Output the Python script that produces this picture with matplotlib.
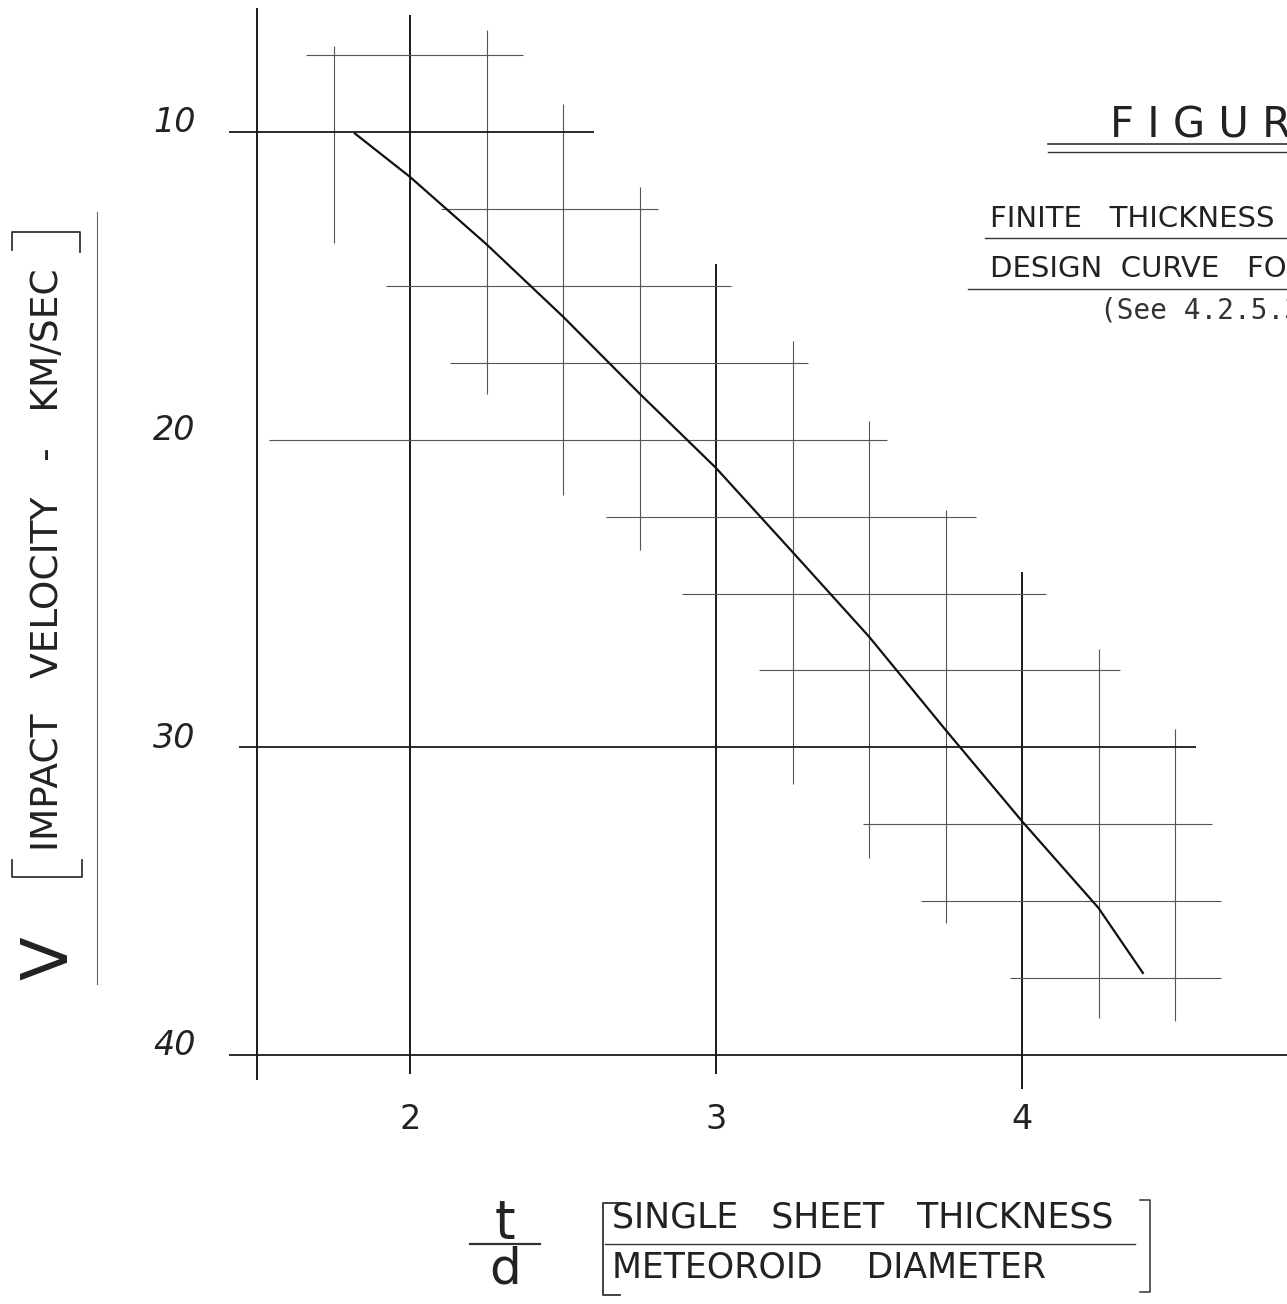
import matplotlib.pyplot as plt
from matplotlib.lines import Line2D

# Data
x_ticks = [2, 3, 4]
v_ticks = [10, 20, 30, 40]

# design curve: t/d vs impact velocity (km/sec)
curve_td = [1.82, 2.0, 2.25, 2.5, 2.75, 3.0, 3.25, 3.5, 3.75, 4.0, 4.25, 4.395]
curve_v = [10.05, 11.46, 13.65, 16.0, 18.5, 20.92, 23.65, 26.4, 29.43, 32.4, 35.22, 37.33]

# vertical grid strokes (t/d value, top velocity, bottom velocity)
grid_td = [1.5, 1.75, 2.0, 2.25, 2.5, 2.75, 3.0, 3.25, 3.5, 3.75, 4.0, 4.25, 4.5]
grid_td_top = [5.97, 7.2, 6.2, 6.7, 9.1, 11.8, 14.3, 16.8, 19.4, 22.3, 24.3, 26.8, 29.4]
grid_td_bot = [40.8, 13.6, 40.6, 18.5, 21.8, 23.6, 40.6, 31.2, 33.6, 35.7, 41.1, 38.8, 38.9]

# horizontal grid strokes (velocity, left t/d, right t/d)
grid_v = [7.5, 10, 12.5, 15, 17.5, 20, 22.5, 25, 27.5, 30, 32.5, 35, 37.5, 40]
grid_v_left = [1.66, 1.41, 2.1, 1.92, 2.13, 1.54, 2.64, 2.89, 3.14, 1.44, 3.48, 3.67, 3.96, 1.41]
grid_v_right = [2.37, 2.60, 2.81, 3.05, 3.30, 3.56, 3.85, 4.08, 4.32, 4.57, 4.62, 4.65, 4.65, 4.87]

major_td = [1.5, 2.0, 3.0, 4.0]
major_v = [10, 30, 40]

W, H = 1287, 1304
fig = plt.figure(figsize=(W / 100, H / 100), dpi=100)
ax = fig.add_axes([0, 0, 1, 1])
ax.set_xlim(0.660, 4.866)
ax.set_ylim(48.09, 5.71)
ax.axis('off')

ink = '#1a1a1a'
faint = '#555555'

for x, top, bot in zip(grid_td, grid_td_top, grid_td_bot):
    if x in major_td:
        ax.plot([x, x], [top, bot], color=ink, lw=1.4, solid_capstyle='butt')
    else:
        ax.plot([x, x], [top, bot], color=faint, lw=0.8, solid_capstyle='butt')

for v, left, right in zip(grid_v, grid_v_left, grid_v_right):
    if v in major_v:
        ax.plot([left, right], [v, v], color=ink, lw=1.3, solid_capstyle='butt')
    else:
        ax.plot([left, right], [v, v], color=faint, lw=0.8, solid_capstyle='butt')

ax.plot(curve_td, curve_v, color='#111111', lw=1.6)

hand = dict(family='DejaVu Sans', color='#222222')

# tick labels
for v in v_ticks:
    ax.text(1.23, v - 0.3, str(v), ha='center', va='center', fontsize=24,
            style='italic', **hand)
for x in x_ticks:
    ax.text(x, 42.1, str(x), ha='center', va='center', fontsize=24, **hand)


def px(x, y):
    return x / W, 1 - y / H


def fline(xs, ys, lw=1.0, color='#333333'):
    fig.add_artist(Line2D([x / W for x in xs], [1 - y / H for y in ys],
                          transform=fig.transFigure, color=color, lw=lw))


# title block (cut by right edge as in the original)
fig.text(*px(1110, 126), 'F I G U R E', fontsize=30, ha='left', va='center', **hand)
fline([1048, 1300], [144, 144], lw=1.2)
fline([1048, 1300], [152, 152], lw=1.0)
fig.text(*px(990, 219), 'FINITE   THICKNESS', fontsize=21, ha='left', va='center', **hand)
fline([985, 1300], [238, 238], lw=1.0)
fig.text(*px(990, 269), 'DESIGN  CURVE   FOR', fontsize=21, ha='left', va='center', **hand)
fline([968, 1300], [289, 289], lw=1.0)
fig.text(*px(1100, 311), '(See 4.2.5.3)', fontsize=20, ha='left', va='center',
         family='DejaVu Sans Mono', color='#333333')

# y label
fig.text(*px(50, 958), 'V', fontsize=46, rotation=90, ha='center', va='center', **hand)
fig.text(*px(48, 560), 'IMPACT   VELOCITY   -   KM/SEC', fontsize=27, rotation=90,
         ha='center', va='center', **hand)
fline([12, 12, 80, 80], [250, 232, 232, 252], lw=1.3)
fline([12, 12, 82, 82], [860, 877, 877, 860], lw=1.3)
fline([97, 97], [212, 984], lw=0.8, color='#666666')

# x label
fig.text(*px(505, 1238), 't', fontsize=38, ha='center', va='baseline', **hand)
fig.text(*px(505, 1283), 'd', fontsize=36, ha='center', va='baseline', **hand)
fline([470, 540], [1244, 1244], lw=1.6)
fig.text(*px(612, 1218), 'SINGLE   SHEET   THICKNESS', fontsize=25, ha='left',
         va='center', **hand)
fig.text(*px(612, 1268), 'METEOROID    DIAMETER', fontsize=25, ha='left',
         va='center', **hand)
fline([605, 1135], [1244, 1244], lw=1.0)
fline([620, 603, 603, 620], [1203, 1203, 1295, 1295], lw=1.3)
fline([1140, 1150, 1150, 1140], [1200, 1200, 1292, 1292], lw=1.1)

fig.savefig('out.png', dpi=100, facecolor='white')
